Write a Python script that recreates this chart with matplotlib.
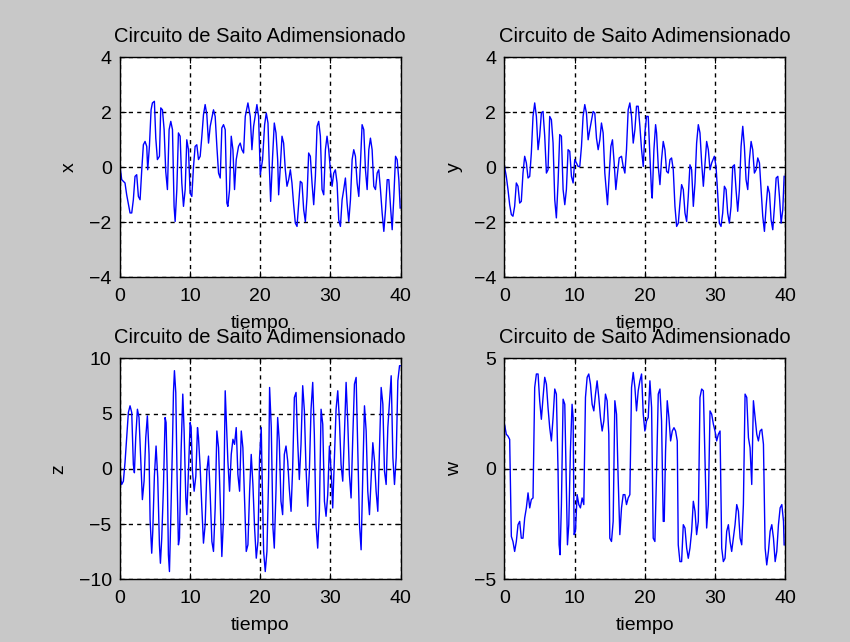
import numpy as np
import matplotlib.pyplot as plt

# Circuito de Saito: señales adimensionales x, y, z, w frente al tiempo
# cada punto es (tiempo, valor)
puntos_x = [
    (0.00, 0.02), (0.24, -0.46), (0.71, -0.58), (0.95, -1.01), (1.43, -1.67), (1.67, -1.67),
    (1.90, -1.19), (2.14, -0.34), (2.38, -0.28), (2.62, -1.07), (2.86, -1.19), (3.10, -0.10),
    (3.33, 0.81), (3.57, 0.93), (3.81, 0.75), (3.95, -0.10), (4.19, 0.75), (4.43, 2.08),
    (4.62, 2.33), (4.90, 2.39), (5.10, 1.05), (5.33, 0.27), (5.62, 0.39), (5.81, 2.15),
    (6.05, 2.08), (6.29, 1.36), (6.52, -0.16), (6.76, -0.82), (7.00, 1.36), (7.24, 1.66),
    (7.48, 1.36), (7.71, -1.43), (7.86, -1.98), (8.10, -0.82), (8.33, 1.24), (8.57, 1.12),
    (8.81, -0.58), (9.05, -1.43), (9.29, -0.82), (9.52, 0.99), (9.76, 0.63), (10.00, -0.95),
    (10.24, -1.07), (10.48, 0.02), (10.71, 0.75), (10.95, 0.81), (11.19, 0.27), (11.43, 0.39),
    (11.67, 1.12), (11.90, 1.90), (12.14, 2.27), (12.38, 1.90), (12.62, 0.87), (12.86, 1.48),
    (13.33, 2.08), (13.57, 1.84), (13.81, 0.75), (14.05, -0.22), (14.29, -0.40), (14.52, 1.42),
    (14.76, 1.54), (15.00, 1.36), (15.24, -1.31), (15.38, -1.43), (15.62, -0.82), (15.86, 1.12),
    (16.10, 0.63), (16.33, -0.82), (16.57, 0.27), (16.90, 0.75), (17.14, 0.87), (17.38, 0.63),
    (17.62, 0.51), (17.86, 1.84), (18.24, 2.33), (18.57, 1.84), (18.81, 0.63), (19.05, 1.48),
    (19.52, 2.27), (19.76, 1.84), (20.00, -0.28), (20.33, 0.27), (20.62, 1.54), (20.86, 1.96),
    (21.10, 1.60), (21.29, 0.02), (21.48, -1.25), (21.76, 0.39), (22.00, 1.60), (22.24, 1.24),
    (22.48, 0.27), (22.62, -1.01), (22.86, 0.02), (23.10, 1.12), (23.33, 0.87), (23.57, -0.10),
    (23.81, -0.70), (24.05, -0.46), (24.29, -0.10), (24.52, -0.58), (24.76, -1.37), (25.00, -2.04),
    (25.24, -2.16), (25.48, -1.31), (25.71, -0.52), (25.95, -0.58), (26.19, -1.55), (26.43, -1.98),
    (26.67, -1.07), (26.90, 0.51), (27.14, 0.39), (27.38, -0.58), (27.62, -1.37), (27.86, -0.34),
    (28.10, 1.48), (28.33, 1.66), (28.57, 1.12), (28.81, -0.82), (29.05, -1.01), (29.29, 0.63),
    (29.52, 1.12), (29.76, 0.63), (30.00, -0.10), (30.24, -0.70), (30.48, -0.22), (30.71, -0.10),
    (30.95, -0.58), (31.19, -1.92), (31.43, -2.16), (31.67, -1.19), (31.90, -0.82), (32.14, -0.40),
    (32.38, -1.31), (32.62, -1.98), (32.86, -1.19), (33.10, 0.27), (33.33, 0.63), (33.57, 0.39),
    (33.81, -0.58), (34.05, -1.07), (34.29, 0.15), (34.52, 1.54), (34.76, 1.36), (35.00, -0.10),
    (35.24, -0.82), (35.48, 0.63), (35.71, 1.05), (35.95, 0.63), (36.19, -0.70), (36.43, -0.82),
    (36.67, -0.22), (36.90, -0.10), (37.14, -0.82), (37.38, -1.67), (37.62, -2.34), (37.86, -1.55),
    (38.10, -0.46), (38.33, -0.46), (38.57, -1.43), (38.81, -2.28), (39.05, -1.07), (39.29, 0.39),
    (39.52, 0.27), (39.76, -0.46), (39.95, -1.49),
]

puntos_y = [
    (0.00, 0.02), (0.26, -0.34), (0.50, -0.82), (0.74, -1.37), (0.98, -1.73), (1.21, -1.79),
    (1.45, -1.43), (1.69, -0.58), (1.93, -0.70), (2.17, -1.31), (2.40, -1.25), (2.64, -0.22),
    (2.88, 0.39), (3.12, 0.15), (3.36, -0.40), (3.60, -0.34), (3.83, 0.51), (4.07, 1.84),
    (4.31, 2.33), (4.55, 1.84), (4.79, 0.63), (5.02, 1.12), (5.26, 1.96), (5.50, 2.02),
    (5.74, 1.12), (5.98, -0.22), (6.21, -0.10), (6.45, 1.84), (6.69, 1.72), (6.93, 0.87),
    (7.17, -1.19), (7.40, -1.85), (7.64, -0.58), (7.88, 1.18), (8.12, 1.12), (8.36, -0.82),
    (8.60, -1.37), (8.83, -0.82), (9.07, 0.63), (9.31, 0.57), (9.55, -0.34), (9.79, -0.58),
    (10.02, 0.27), (10.26, 0.15), (10.50, 0.02), (10.74, 0.02), (10.98, 0.75), (11.21, 1.84),
    (11.45, 2.27), (11.69, 1.96), (11.93, 0.99), (12.17, 1.36), (12.64, 2.02), (12.88, 1.96),
    (13.12, 1.05), (13.36, 0.63), (13.60, 0.99), (13.83, 1.60), (14.07, 1.24), (14.31, -0.22),
    (14.55, -0.95), (14.69, -1.37), (14.93, -0.34), (15.17, 0.75), (15.40, 0.99), (15.64, 0.15),
    (15.88, -0.82), (16.12, -0.22), (16.36, 0.33), (16.69, 0.39), (16.93, 0.02), (17.17, -0.22),
    (17.40, 0.63), (17.64, 2.08), (17.88, 2.33), (18.12, 1.84), (18.36, 0.87), (18.60, 1.36),
    (18.83, 2.21), (19.07, 2.21), (19.31, 1.48), (19.55, 0.63), (19.79, 0.02), (20.02, 1.24),
    (20.26, 1.84), (20.50, 1.84), (20.74, 0.39), (20.98, -0.95), (21.07, -1.13), (21.31, 0.63),
    (21.55, 1.54), (21.69, 1.24), (21.93, 0.02), (22.17, -0.64), (22.40, 0.27), (22.64, 0.93),
    (22.88, 0.63), (23.12, -0.16), (23.36, -0.22), (23.60, 0.27), (23.83, 0.33), (24.07, -0.10),
    (24.31, -1.43), (24.55, -2.16), (24.79, -2.04), (25.02, -1.31), (25.26, -0.64), (25.50, -0.82),
    (25.74, -1.67), (25.98, -1.98), (26.21, -1.07), (26.45, 0.08), (26.69, -0.10), (26.93, -1.43),
    (27.17, -0.58), (27.40, 0.87), (27.64, 1.54), (27.88, 1.24), (28.12, 0.15), (28.36, -0.70),
    (28.60, 0.15), (28.83, 0.93), (29.07, 0.63), (29.31, -0.10), (29.55, 0.15), (29.93, 0.39),
    (30.17, 0.02), (30.40, -0.95), (30.64, -2.04), (30.88, -2.16), (31.12, -1.67), (31.36, -0.70),
    (31.60, -0.82), (31.83, -1.67), (32.07, -2.04), (32.31, -1.43), (32.55, 0.02), (32.79, 0.08),
    (33.02, -0.82), (33.26, -1.61), (33.50, -0.82), (33.74, 0.75), (33.98, 1.48), (34.21, 0.75),
    (34.45, -0.46), (34.69, -0.82), (34.93, 0.27), (35.17, 0.93), (35.40, 0.63), (35.64, -0.22),
    (35.88, -0.10), (36.12, 0.33), (36.36, 0.15), (36.60, -0.82), (36.83, -1.79), (37.07, -2.34),
    (37.31, -1.43), (37.55, -0.70), (37.79, -0.95), (38.02, -1.92), (38.26, -2.28), (38.50, -1.43),
    (38.74, -0.40), (38.98, -0.34), (39.21, -1.07), (39.45, -2.04), (39.69, -1.55), (39.88, -0.34),
]

puntos_z = [
    (0.00, -0.50), (0.24, -1.42), (0.48, -1.12), (0.71, 0.55), (0.95, 2.82), (1.19, 5.09),
    (1.43, 5.70), (1.67, 5.09), (1.90, 0.39), (2.05, -0.36), (2.24, 2.82), (2.48, 5.39),
    (2.71, 4.64), (2.95, 1.00), (3.19, -2.79), (3.43, -1.12), (3.67, 2.82), (3.90, 4.79),
    (4.14, 1.30), (4.29, -4.61), (4.52, -7.64), (4.67, -5.67), (4.90, -0.67), (5.14, 2.06),
    (5.38, -0.82), (5.62, -6.88), (5.76, -8.55), (5.95, -6.27), (6.19, -1.73), (6.43, 4.64),
    (6.57, 4.18), (6.76, -1.42), (6.90, -7.79), (7.05, -9.30), (7.24, -4.45), (7.48, 2.21),
    (7.62, 6.91), (7.76, 8.88), (7.95, 6.91), (8.14, -0.82), (8.33, -6.88), (8.48, -6.27),
    (8.71, 1.61), (8.95, 6.76), (9.14, 3.42), (9.38, -2.64), (9.52, -4.15), (9.76, -0.21),
    (10.00, 4.18), (10.14, 3.73), (10.33, -0.21), (10.57, -2.03), (10.81, -0.67), (11.05, 3.73),
    (11.19, 2.82), (11.43, 0.09), (11.67, -3.55), (11.90, -6.73), (12.14, -5.06), (12.38, -0.21),
    (12.62, 1.15), (12.86, -2.33), (13.10, -6.58), (13.33, -7.48), (13.57, -3.55), (13.81, 3.42),
    (14.05, 1.91), (14.29, -2.94), (14.52, -7.94), (14.76, -4.45), (15.00, 7.06), (15.14, 4.79),
    (15.38, 0.70), (15.62, -2.03), (15.86, 1.30), (16.10, 2.67), (16.33, 2.21), (16.57, 3.73),
    (16.81, -0.52), (17.05, -2.03), (17.29, 3.42), (17.52, 1.91), (17.76, -2.94), (18.00, -7.48),
    (18.24, -6.88), (18.48, -2.03), (18.71, 1.30), (18.95, -1.42), (19.19, -5.36), (19.43, -8.09),
    (19.67, -6.58), (19.90, 1.00), (20.14, 3.73), (20.24, 0.09), (20.48, -7.48), (20.71, -9.30),
    (20.95, -7.48), (21.19, -0.82), (21.33, 7.36), (21.57, 3.73), (21.81, -5.36), (22.00, -7.18),
    (22.24, -2.03), (22.48, 4.64), (22.71, 2.52), (22.95, -2.94), (23.19, -4.15), (23.43, 1.30),
    (23.67, 2.06), (23.91, 0.70), (24.15, -1.88), (24.39, -3.85), (24.62, 0.09), (24.86, 6.45),
    (25.10, 6.91), (25.33, 2.52), (25.57, -0.97), (25.81, 2.21), (26.05, 7.52), (26.29, 5.24),
    (26.52, 0.09), (26.76, -3.39), (27.00, -0.21), (27.24, 5.39), (27.48, 7.82), (27.71, 3.12),
    (27.95, -5.06), (28.19, -7.18), (28.43, -3.85), (28.67, 5.39), (28.91, 4.03), (29.15, -2.94),
    (29.38, -4.30), (29.62, -2.33), (29.86, 2.06), (30.14, -0.52), (30.33, -3.55), (30.57, 1.00),
    (30.81, 5.39), (31.05, 7.06), (31.29, 4.33), (31.52, 0.39), (31.76, -1.12), (32.00, 3.12),
    (32.24, 7.82), (32.48, 4.18), (32.71, -0.52), (32.95, -2.64), (33.19, 2.82), (33.43, 7.67),
    (33.67, 8.27), (33.91, 1.61), (34.15, -5.06), (34.38, -7.33), (34.62, -0.52), (34.86, 5.70),
    (35.10, 3.42), (35.33, -2.03), (35.57, -4.15), (35.81, -0.82), (36.05, 2.36), (36.29, 0.70),
    (36.52, -2.03), (36.76, -3.85), (37.00, 1.61), (37.24, 7.36), (37.48, 5.85), (37.71, -0.21),
    (37.95, -1.42), (38.19, 3.73), (38.43, 6.00), (38.67, 8.42), (38.91, 1.00), (39.14, -1.42),
    (39.38, 1.00), (39.62, 7.97), (39.86, 9.33), (39.95, 9.33),
]

puntos_w = [
    (0.00, 2.02), (0.26, 1.56), (0.50, 1.48), (0.74, 1.33), (0.98, -3.06), (1.21, -3.29),
    (1.45, -3.74), (1.69, -3.29), (1.93, -2.53), (2.17, -2.38), (2.40, -3.14), (2.64, -3.14),
    (2.88, -2.23), (3.12, -1.77), (3.36, -1.09), (3.60, -1.77), (3.83, -1.39), (4.07, -1.32),
    (4.31, 3.68), (4.55, 4.29), (4.79, 4.29), (5.02, 3.08), (5.26, 2.24), (5.50, 3.23),
    (5.74, 4.14), (5.98, 3.83), (6.21, 2.77), (6.45, 1.86), (6.69, 1.26), (6.93, 2.32),
    (7.17, 3.61), (7.40, 3.38), (7.64, -0.11), (7.79, -3.44), (7.93, -3.89), (8.12, -1.62),
    (8.36, 3.15), (8.60, 2.92), (8.83, -1.02), (8.98, -3.44), (9.17, -2.53), (9.40, 0.80),
    (9.64, 2.92), (9.79, 2.32), (9.93, -2.98), (10.12, -2.83), (10.36, -1.17), (10.60, -1.62),
    (10.83, -1.77), (11.07, -1.32), (11.31, -1.62), (11.55, 3.23), (11.79, 4.14), (12.02, 4.29),
    (12.26, 3.83), (12.50, 2.92), (12.74, 2.62), (12.98, 3.38), (13.21, 3.98), (13.45, 3.23),
    (13.69, 2.32), (13.93, 1.71), (14.17, 2.17), (14.40, 3.38), (14.64, 3.08), (14.88, 1.56),
    (15.02, -3.14), (15.26, -3.29), (15.50, -2.38), (15.74, 3.08), (15.98, 2.47), (16.21, -0.41),
    (16.45, -2.98), (16.69, -1.77), (16.93, -1.17), (17.17, -1.17), (17.40, -1.62), (17.64, -1.32),
    (17.88, -1.17), (18.12, 3.68), (18.36, 4.36), (18.60, 3.68), (18.83, 2.62), (19.07, 3.53),
    (19.31, 3.98), (19.55, 4.29), (19.79, 2.47), (20.02, 1.71), (20.26, 2.17), (20.50, 2.32),
    (20.74, 3.98), (20.98, 2.77), (21.21, -3.14), (21.45, -3.29), (21.69, -0.11), (21.93, 3.38),
    (22.17, 3.61), (22.40, 2.17), (22.64, -2.38), (22.78, -2.38), (22.97, 0.80), (23.21, 3.08),
    (23.45, 2.32), (23.69, 1.26), (23.93, 1.71), (24.17, 1.86), (24.40, 1.71), (24.64, 1.26),
    (24.78, -3.44), (25.02, -4.20), (25.26, -4.20), (25.50, -2.53), (25.74, -2.68), (25.98, -3.59),
    (26.21, -4.05), (26.45, -3.59), (26.69, -2.83), (26.93, -1.47), (27.17, -1.92), (27.40, -2.98),
    (27.64, -2.38), (27.88, 3.23), (28.12, 3.61), (28.36, 3.53), (28.60, 0.35), (28.83, -2.68),
    (29.07, -1.62), (29.31, 2.62), (29.55, 2.47), (29.79, 2.02), (30.02, 1.71), (30.26, 1.26),
    (30.50, 1.56), (30.74, 1.71), (30.98, -3.59), (31.21, -4.20), (31.45, -4.05), (31.69, -2.83),
    (31.93, -2.53), (32.17, -3.29), (32.40, -3.74), (32.64, -3.14), (32.88, -2.53), (33.12, -1.62),
    (33.36, -1.92), (33.60, -3.14), (33.83, -3.44), (34.07, -1.62), (34.31, 3.38), (34.55, 3.23),
    (34.79, 1.41), (35.02, 0.95), (35.26, -0.71), (35.50, 3.08), (35.74, 2.32), (35.98, 1.56),
    (36.21, 1.26), (36.45, 1.71), (36.69, 1.79), (36.93, 1.11), (37.17, -3.59), (37.40, -4.35),
    (37.64, -3.74), (37.88, -2.83), (38.12, -2.53), (38.36, -3.14), (38.60, -4.20), (38.83, -3.74),
    (39.07, -2.53), (39.31, -1.77), (39.55, -1.62), (39.79, -2.38), (39.88, -3.44),
]

nombres = ['x', 'y', 'z', 'w']
marcas_y = [[-4, -2, 0, 2, 4], [-4, -2, 0, 2, 4], [-10, -5, 0, 5, 10], [-5, 0, 5]]
marcas_t = [0, 10, 20, 30, 40]

plt.rcParams['font.family'] = ['Liberation Sans', 'DejaVu Sans']
plt.rcParams['font.size'] = 14

gris = '#c8c8c8'
fig = plt.figure(figsize=(8.5, 6.42), dpi=100, facecolor=gris)

posiciones = [[0.1412, 0.5685, 0.330, 0.3427],
              [0.5935, 0.5685, 0.330, 0.3427],
              [0.1412, 0.0977, 0.330, 0.3442],
              [0.5935, 0.0977, 0.330, 0.3442]]

for pos, puntos, nombre, yticks in zip(posiciones, [puntos_x, puntos_y, puntos_z, puntos_w],
                                       nombres, marcas_y):
    t, v = np.array(puntos).T
    ax = fig.add_axes(pos)
    ax.plot(t, v, color='#0000ff', linewidth=1.0)
    ax.set_xlim(marcas_t[0], marcas_t[-1])
    ax.set_ylim(yticks[0], yticks[-1])
    ax.set_xticks(marcas_t)
    ax.set_yticks(yticks)
    ax.grid(True, color='black', linestyle=(0, (3, 3)), linewidth=1.0)
    ax.tick_params(direction='in', top=True, right=True, length=4, width=0.8,
                   labelsize=14, colors='black')
    ax.tick_params(axis='x', pad=8)
    ax.tick_params(axis='y', pad=6)
    for s in ax.spines.values():
        s.set_linewidth(1.0)
        s.set_color('black')
    ax.set_title('Circuito de Saito Adimensionado', fontsize=14.5, pad=11)
    ax.set_xlabel('tiempo', fontsize=14, labelpad=7)
    ax.set_ylabel(nombre, fontsize=14, labelpad=8)

fig.savefig('out.png', dpi=100, facecolor=gris)
